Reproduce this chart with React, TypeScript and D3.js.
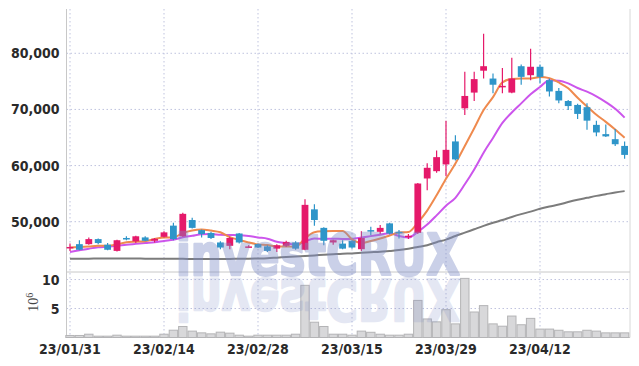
import React from "react";
import * as d3 from "d3";

const dates = [
  "23/01/31", "23/02/01", "23/02/02", "23/02/03", "23/02/06", "23/02/07", "23/02/08", "23/02/09", "23/02/10", "23/02/13",
  "23/02/14", "23/02/15", "23/02/16", "23/02/17", "23/02/20", "23/02/21", "23/02/22", "23/02/23", "23/02/24", "23/02/27",
  "23/02/28", "23/03/02", "23/03/03", "23/03/06", "23/03/07", "23/03/08", "23/03/09", "23/03/10", "23/03/13", "23/03/14",
  "23/03/15", "23/03/16", "23/03/17", "23/03/20", "23/03/21", "23/03/22", "23/03/23", "23/03/24", "23/03/27", "23/03/28",
  "23/03/29", "23/03/30", "23/03/31", "23/04/03", "23/04/04", "23/04/05", "23/04/06", "23/04/07", "23/04/10", "23/04/11",
  "23/04/12", "23/04/13", "23/04/14", "23/04/17", "23/04/18", "23/04/19", "23/04/20", "23/04/21", "23/04/24", "23/04/25",
];

const opens = [
  45400, 46000, 46000, 46900, 45900, 44800, 47100, 46500, 47200, 46600,
  47300, 49300, 47400, 50300, 48500, 48000, 46300, 45700, 47900, 45500,
  46000, 45600, 45200, 45700, 46300, 45000, 52200, 48900, 46300, 46100,
  46600, 45100, 48500, 48200, 49700, 48200, 47400, 48000, 57700, 59000,
  60200, 64300, 70200, 73000, 76900, 75500, 74000, 73000, 77700, 76100,
  77600, 75200, 73300, 71500, 70800, 70400, 67250, 65600, 64700, 63500,
];
const highs = [
  46100, 46700, 47200, 47000, 46200, 46800, 47400, 47500, 47400, 47100,
  48300, 49800, 51600, 50700, 48600, 48200, 46500, 47300, 48000, 45800,
  46100, 45800, 46000, 46600, 46500, 54000, 53100, 49000, 46800, 46700,
  46700, 48300, 49100, 49400, 49800, 48500, 47800, 56900, 60400, 62700,
  68000, 65400, 76700, 76700, 83500, 76400, 77400, 79200, 78000, 80800,
  78000, 75500, 73800, 71700, 71000, 71100, 68000, 67300, 66500, 64300,
];
const lows = [
  44800, 44900, 45900, 46000, 44900, 44700, 46700, 46200, 46500, 46300,
  47200, 46700, 47300, 48800, 47200, 46900, 45100, 45100, 46100, 45300,
  45300, 44600, 44600, 45500, 45000, 44900, 49300, 45800, 45900, 45100,
  45200, 44800, 47600, 47800, 47700, 47000, 46900, 47800, 55600, 58700,
  58100, 60900, 69000, 71500, 75500, 72900, 72900, 72900, 74400, 75200,
  74600, 72300, 71100, 69900, 68300, 66400, 65200, 65100, 63500, 61200,
];
const closes = [
  45500, 45000, 46900, 46200, 45000, 46700, 46950, 47400, 46600, 46950,
  48100, 46900, 51400, 48900, 47800, 47100, 45400, 47100, 46300, 45600,
  45400, 44800, 45800, 46400, 45200, 53000, 50300, 46600, 46700, 45200,
  45400, 47100, 48400, 48900, 47900, 48100, 47500, 56800, 59600, 61500,
  62800, 61100, 72400, 75400, 77700, 74400, 74200, 75500, 75800, 77600,
  75800, 73200, 71600, 70600, 69200, 68000, 65900, 65200, 63800, 61900,
];
// volume in millions of shares
const volumes = [
  0.35, 0.35, 0.57, 0.23, 0.23, 0.4, 0.23, 0.23, 0.23, 0.23,
  0.57, 1.26, 1.9, 1.1, 0.8, 0.63, 0.92, 0.75, 0.4, 0.23,
  0.4, 0.4, 0.4, 0.4, 0.57, 9.0, 2.64, 1.9, 0.57, 0.57,
  0.4, 1.1, 0.9, 0.57, 0.4, 0.4, 0.57, 6.4, 3.2, 2.7,
  4.8, 2.35, 10.2, 4.4, 5.5, 2.35, 1.95, 3.7, 2.2, 3.3,
  1.45, 1.45, 1.25, 0.98, 0.98, 1.25, 1.1, 0.8, 0.8, 0.8,
];
const ma5 = [
  45400, 45500, 45600, 45700, 45720, 45960, 46350, 46450, 46530, 46920,
  47200, 47190, 47990, 48450, 48620, 48420, 48120, 47260, 46740, 46300,
  45960, 45840, 45580, 45600, 45520, 47040, 48140, 48300, 48360, 48360,
  46840, 46200, 46560, 47000, 47540, 48080, 48160, 49840, 51980, 54700,
  57640, 60360, 63480, 66640, 69880, 72200, 74820, 75440, 75520, 75500,
  75780, 75580, 74800, 73760, 72080, 70520, 69060, 67780, 66420, 64960,
];
const ma10 = [
  44600, 44900, 45200, 45450, 45550, 45700, 45900, 46050, 46200, 46320,
  46580, 46770, 47220, 47490, 47770, 47810, 47655, 47625, 47595, 47460,
  47190, 46980, 46420, 46170, 45910, 46500, 46990, 46940, 46980, 46940,
  46940, 47170, 47430, 47680, 47950, 47460, 47180, 48200, 49490, 51120,
  52860, 54260, 56660, 59310, 62290, 64920, 67590, 69460, 71080, 72690,
  73990, 75200, 75120, 74640, 73810, 73170, 72340, 71310, 70110, 68540,
];
const ma60 = [
  43400, 43420, 43420, 43430, 43440, 43450, 43440, 43430, 43420, 43410,
  43400, 43390, 43380, 43370, 43360, 43350, 43360, 43370, 43390, 43420,
  43450, 43500, 43600, 43700, 43800, 43900, 44000, 44100, 44200, 44300,
  44350, 44450, 44550, 44650, 44800, 44950, 45200, 45500, 45800, 46350,
  46800, 47450, 48050, 48650, 49250, 49800, 50300, 50850, 51350, 51800,
  52300, 52700, 53050, 53500, 53900, 54250, 54600, 54900, 55200, 55450,
];
const priceTicks = [50000, 60000, 70000, 80000];
const volumeTicks = [5, 10];
const dateTickEvery = 10;

const W = 639;
const H = 366;
const L = 66.5;
const R = 630;
const T = 9;
const PB = 272;
const VB = 337.5;

const UP = "#e5196a";
const DOWN = "#2e95c9";
const GRID = "#bfc3de";
const LABEL_FONT = "'Liberation Sans Narrow', 'DejaVu Sans Condensed', sans-serif";
const WM_FONT = "'DejaVu Sans', 'Liberation Sans', sans-serif";
const WM_COLOR = "#7d8cc6";

export default function App() {
  const x = d3.scaleBand<string>().domain(dates).range([65.3, 629.3]).padding(0);
  const bw = x.bandwidth();
  const cx = (i: number) => (x(dates[i]) as number) + bw / 2;
  const y = d3.scaleLinear().domain([41040, 87890]).range([PB, T]);
  const yv = d3.scaleLinear().domain([0, 11.3]).range([VB, PB]);

  const mkLine = (arr: number[]) =>
    d3
      .line<number>()
      .x((_, i) => cx(i))
      .y((d) => y(d))
      .curve(d3.curveMonotoneX)(arr) || "";

  const dateTicks = dates.map((d, i) => ({ d, i })).filter((t) => t.i % dateTickEvery === 0);

  const wmX = 176;
  const wmBase = 275;

  const wmText = (
    <text
      x={wmX}
      y={wmBase}
      fontFamily={WM_FONT}
      fontWeight="bold"
      fontSize={57}
      textLength={284}
      lengthAdjust="spacingAndGlyphs"
      fill={WM_COLOR}
      stroke={WM_COLOR}
      strokeWidth={2.6}
      strokeLinejoin="round"
    >
      investCRUX
    </text>
  );

  return (
    <svg
      width={W}
      height={H}
      style={{ position: "absolute", left: 0, top: 0, background: "#fff" }}
    >
      <rect x={0} y={0} width={W} height={H} fill="#fff" />
      {/* grid */}
      {priceTicks.map((t) => (
        <line key={"pg" + t} x1={L} x2={R} y1={y(t)} y2={y(t)} stroke={GRID} strokeDasharray="1.5,2.5" />
      ))}
      {volumeTicks.map((t) => (
        <line key={"vg" + t} x1={L} x2={R} y1={yv(t)} y2={yv(t)} stroke={GRID} strokeDasharray="1.5,2.5" />
      ))}
      {dateTicks.map((t) => (
        <line key={"dg" + t.i} x1={cx(t.i)} x2={cx(t.i)} y1={T} y2={VB} stroke={GRID} strokeDasharray="1.5,2.5" />
      ))}
      {/* frame */}
      <line x1={L} x2={L} y1={T} y2={VB} stroke="#c8c8c8" />
      <line x1={R} x2={R} y1={T} y2={VB} stroke="#d8d8d8" />
      <line x1={L} x2={R} y1={PB} y2={PB} stroke="#c8c8c8" />
      <line x1={L} x2={R} y1={VB} y2={VB} stroke="#c8c8c8" />

      {/* volume */}
      {volumes.map((v, i) => (
        <rect
          key={"v" + i}
          x={(x(dates[i]) as number) + 0.5}
          y={yv(v)}
          width={bw - 1}
          height={yv(0) - yv(v)}
          fill="#d8d8da"
          stroke="#b4b4b6"
          strokeWidth={1}
        />
      ))}

      {/* moving averages */}
      <path d={mkLine(ma60)} fill="none" stroke="#7c7c7c" strokeWidth={2} />
      <path d={mkLine(ma10)} fill="none" stroke="#cc55ec" strokeWidth={2} />
      <path d={mkLine(ma5)} fill="none" stroke="#ef8a4e" strokeWidth={2} />

      {/* candles */}
      {dates.map((d, i) => {
        const o = opens[i];
        const c = closes[i];
        const col = c >= o ? UP : DOWN;
        const top = y(Math.max(o, c));
        const bot = y(Math.min(o, c));
        const h = Math.max(1.5, bot - top);
        return (
          <g key={"c" + i}>
            <line x1={cx(i)} x2={cx(i)} y1={y(highs[i])} y2={y(lows[i])} stroke={col} strokeWidth={1.2} />
            <rect x={cx(i) - 3.4} y={top} width={6.8} height={h} fill={col} />
          </g>
        );
      })}

      {/* watermark */}
      <g style={{ pointerEvents: "none" }}>
        <g opacity={0.4}>{wmText}</g>
        <g opacity={0.2} transform={`translate(0, ${2 * wmBase + 4}) scale(1,-1)`}>
          {wmText}
        </g>
      </g>

      {/* axis labels */}
      {priceTicks.map((t) => (
        <text
          key={"pl" + t}
          x={59.5}
          y={y(t) + 5}
          textAnchor="end"
          fontFamily={LABEL_FONT}
          fontWeight="bold"
          fontSize={14}
          fill="#2a2a2a"
        >
          {d3.format(",")(t)}
        </text>
      ))}
      {volumeTicks.map((t) => (
        <text
          key={"vl" + t}
          x={59.5}
          y={yv(t) + 5}
          textAnchor="end"
          fontFamily={LABEL_FONT}
          fontWeight="bold"
          fontSize={14}
          fill="#2a2a2a"
        >
          {t}
        </text>
      ))}
      {dateTicks.map((t) => (
        <text
          key={"dl" + t.i}
          x={cx(t.i)}
          y={354}
          textAnchor="middle"
          fontFamily={LABEL_FONT}
          fontWeight="bold"
          fontSize={14}
          fill="#2a2a2a"
        >
          {t.d}
        </text>
      ))}
      <text
        transform="translate(37.7, 311.7) rotate(-90)"
        fontFamily="'Liberation Serif', 'DejaVu Serif', serif"
        fontSize={14}
        fill="#444"
      >
        10
        <tspan dy={-5} fontSize={10}>
          6
        </tspan>
      </text>
    </svg>
  );
}
